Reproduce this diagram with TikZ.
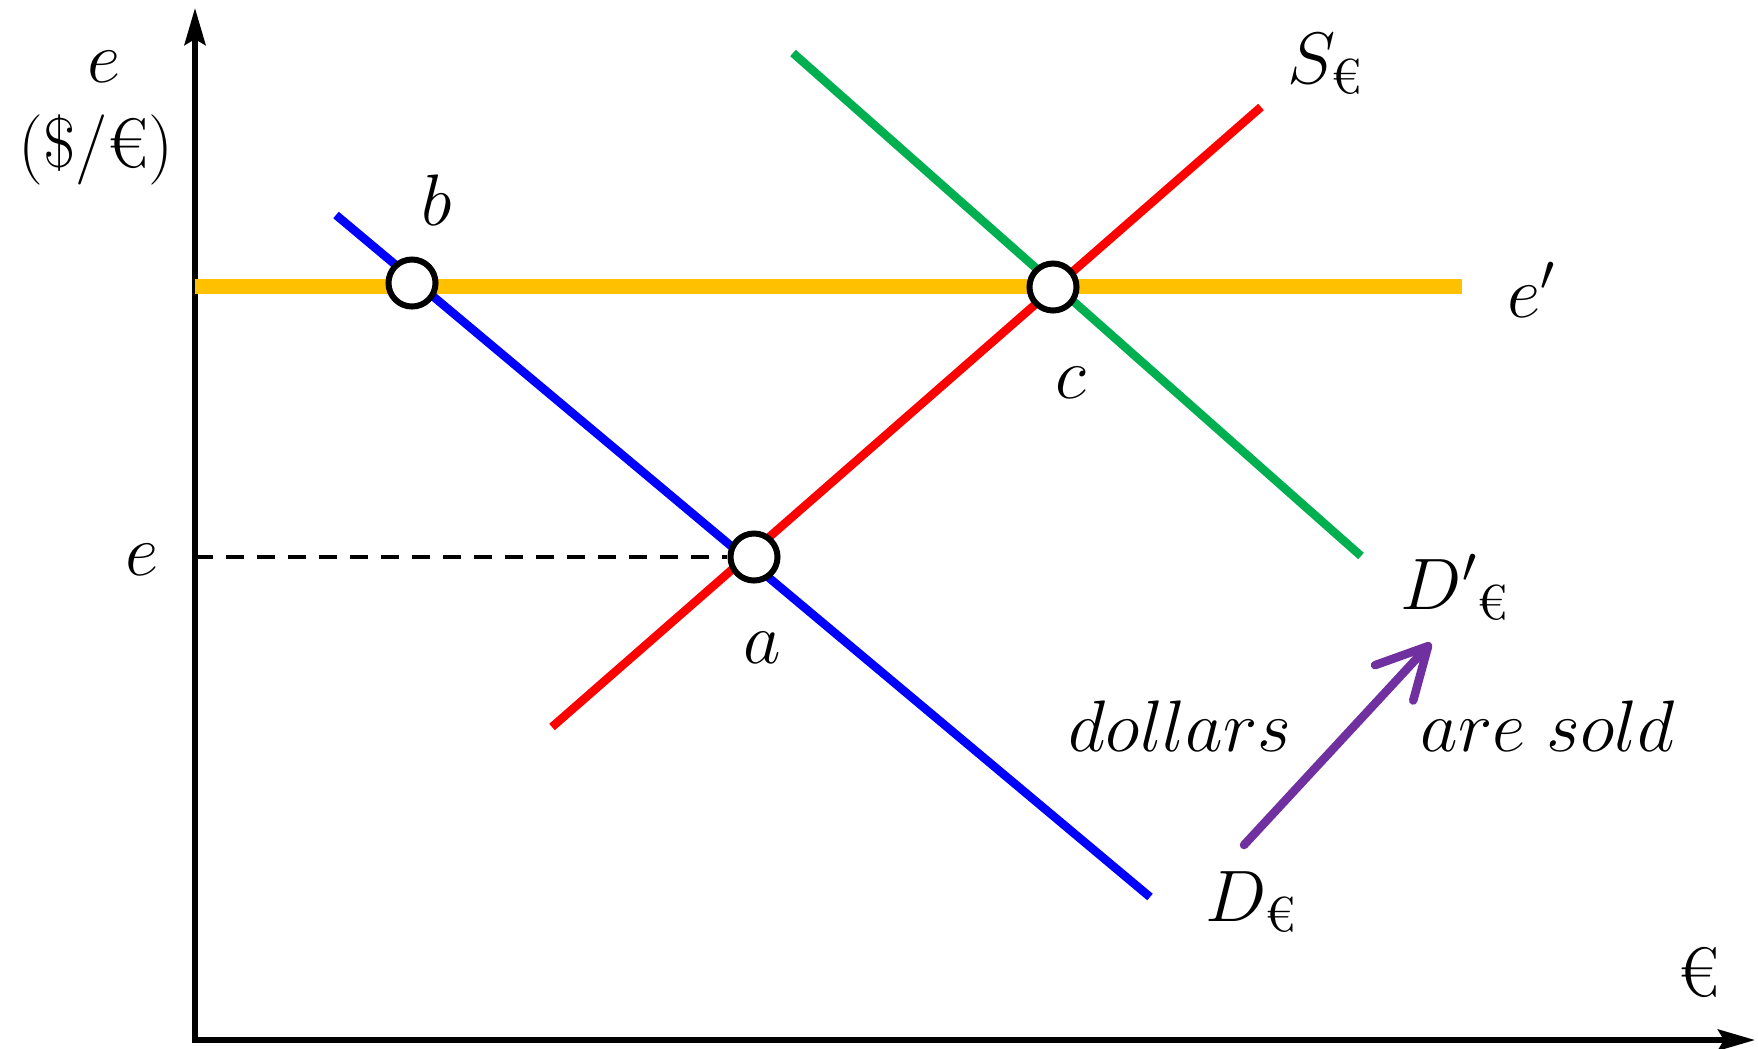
\documentclass[tikz,border=0pt]{standalone}
\usepackage{fontspec}
\usepackage{amsmath}
\usetikzlibrary{arrows.meta}
\definecolor{cyellow}{RGB}{255,192,0}
\definecolor{cgreen}{RGB}{0,176,80}
\definecolor{cred}{RGB}{255,0,0}
\definecolor{cblue}{RGB}{0,0,255}
\definecolor{cpurple}{RGB}{112,48,160}
\begin{document}
\begin{tikzpicture}[x=0.01cm,y=-0.01cm,
  every node/.style={font=\fontsize{20}{24}\selectfont, inner sep=0pt},
  axis/.style={line width=0.055cm, {Stealth[length=0.37cm,width=0.21cm,inset=0.06cm]}-{Stealth[length=0.37cm,width=0.21cm,inset=0.06cm]}},
  curve/.style={line width=0.085cm},
  eqpt/.style={circle, draw=black, fill=white, line width=0.06cm, minimum size=0.47cm},
  guide/.style={line width=0.045cm, dash pattern=on 0.18cm off 0.13cm},
  shiftarrow/.style={cpurple, line width=0.085cm, line cap=round, -{Straight Barb[length=0.5cm,width=0.52cm,round]}}
]
\useasboundingbox (0,0) rectangle (1758,1048);

% axes
\coordinate (ytip) at (195,8);
\coordinate (origin) at (195,1040);
\coordinate (xtip) at (1755,1040);
\draw[axis] (ytip) -- (origin) -- (xtip);

% target rate line
\coordinate (y1) at (195,286);
\coordinate (y2) at (1462,286);
\draw[cyellow, line width=0.15cm] (y1) -- (y2);

% curves
\coordinate (s1) at (552,727);
\coordinate (s2) at (1261,107);
\coordinate (d1) at (336,215);
\coordinate (d2) at (1150,897);
\coordinate (g1) at (793,53);
\coordinate (g2) at (1361,556);
\draw[curve, cgreen] (g1) -- (g2);
\draw[curve, cred] (s1) -- (s2);
\draw[curve, cblue] (d1) -- (d2);

% equilibrium points
\node[eqpt] (a) at (754,557) {};
\node[eqpt] (b) at (412,283) {};
\node[eqpt] (c) at (1053,287) {};

% dashed guide
\coordinate (ye) at (195,557);
\draw[guide] (ye) -- (a.west);

% shift arrow
\coordinate (arrTail) at (1244,845);
\coordinate (arrTip) at (1431,643);
\draw[shiftarrow] (arrTail) -- (arrTip);

% labels
\node (lE) at (104,67) {$e$};
\node (lUnit) at (96,150) {(\$/€)};
\node (lb) at (437,200) {$b$};
\node (lc) at (1071,383) {$c$};
\node (la) at (762,648) {$a$};
\node (le) at (142,560) {$e$};
\node[anchor=base west] (lS) at (1287,83) {$S_{\text{€}}$};
\node (lep) at (1532,290) {$e'$};
\node[anchor=base west] (lDp) at (1400,609) {${D'}_{\text{€}}$};
\node[anchor=base west] (lD) at (1205,921) {$D_{\text{€}}$};
\node[anchor=base west] (ldol) at (1068,751) {$dollars$};
\node[anchor=base west] (lsold) at (1420,751) {$are\ sold$};
\node (leur) at (1699,972) {€};
\end{tikzpicture}
\end{document}
